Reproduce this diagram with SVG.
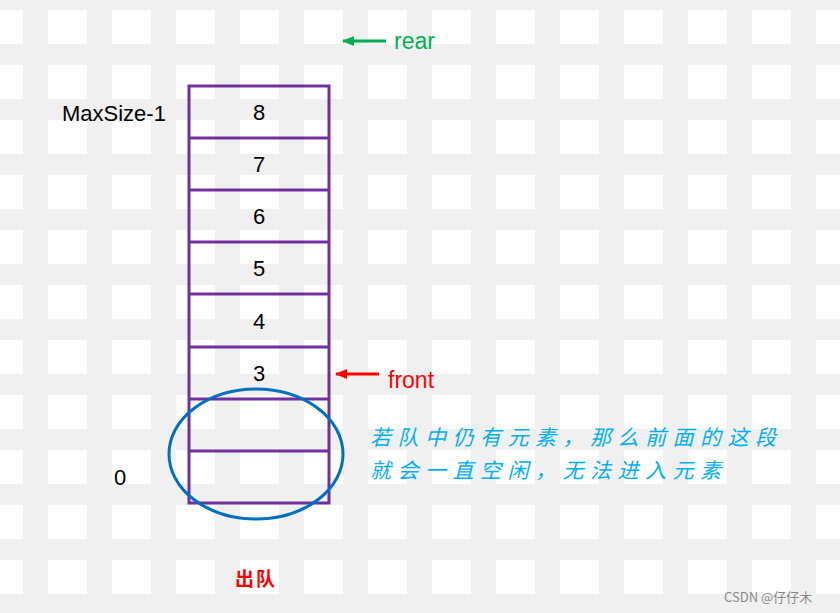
<svg xmlns="http://www.w3.org/2000/svg" width="840" height="613" viewBox="0 0 840 613">
<defs>
<pattern id="g" x="-16" y="10" width="64" height="55" patternUnits="userSpaceOnUse"><rect width="39" height="34" fill="#fff"/></pattern>
<marker id="ag" markerWidth="12" markerHeight="10" refX="11" refY="5" orient="auto" markerUnits="userSpaceOnUse"><path d="M12,5 L0,0 L0,10 Z" fill="#00b050"/></marker>
<marker id="ar" markerWidth="12" markerHeight="10" refX="11" refY="5" orient="auto" markerUnits="userSpaceOnUse"><path d="M12,5 L0,0 L0,10 Z" fill="#f00"/></marker>
</defs>
<style>
.t{font-family:"Liberation Sans",Arial,sans-serif;font-size:22px;fill:#000}
.c{stroke:#7030a0;stroke-width:3;fill:none}
.k{font-family:"Noto Sans CJK SC",sans-serif;font-size:21px;fill:#00b0f0;font-style:italic;letter-spacing:6.5px}
</style>
<rect width="840" height="613" fill="#f0f0f0"/>
<rect width="840" height="613" fill="url(#g)"/>
<g id="queue">
<rect class="c" x="189" y="86" width="140" height="417"/>
<path class="c" d="M189 138H329M189 190H329M189 242H329M189 294H329M189 347H329M189 399H329M189 451H329"/>
<text class="t" x="259" y="120" text-anchor="middle">8</text>
<text class="t" x="259" y="172" text-anchor="middle">7</text>
<text class="t" x="259" y="224" text-anchor="middle">6</text>
<text class="t" x="259" y="276" text-anchor="middle">5</text>
<text class="t" x="259" y="329" text-anchor="middle">4</text>
<text class="t" x="259" y="381" text-anchor="middle">3</text>
</g>
<g id="labels">
<text class="t" x="62" y="121">MaxSize-1</text>
<text class="t" x="114" y="485">0</text>
</g>
<g id="empty"><ellipse cx="256" cy="454" rx="87" ry="65" fill="none" stroke="#0070c0" stroke-width="3"/></g>
<g id="connectors">
<line x1="386" y1="41" x2="343" y2="41" stroke="#00b050" stroke-width="3" marker-end="url(#ag)"/>
<line x1="379" y1="374" x2="336" y2="374" stroke="#f00" stroke-width="3" marker-end="url(#ar)"/>
</g>
<g id="rear"><text x="394" y="49" style="font-family:'Liberation Sans',sans-serif;font-size:23px;fill:#00b050">rear</text></g>
<g id="front"><text x="388" y="388" style="font-family:'Liberation Sans',sans-serif;font-size:23px;fill:#f00">front</text></g>
<g id="note">
<text class="k" x="370" y="445">若队中仍有元素，那么前面的这段</text>
<text class="k" x="370" y="478">就会一直空闲，无法进入元素</text>
</g>
<g id="dequeue"><text x="235" y="586" style="font-family:'Noto Sans CJK SC',sans-serif;font-size:19px;fill:#f00;font-weight:bold;letter-spacing:2px">出队</text></g>
<text x="724" y="602" style="font-family:'Noto Sans CJK SC',sans-serif;font-size:13px;fill:#888">CSDN @仔仔木</text>
</svg>
